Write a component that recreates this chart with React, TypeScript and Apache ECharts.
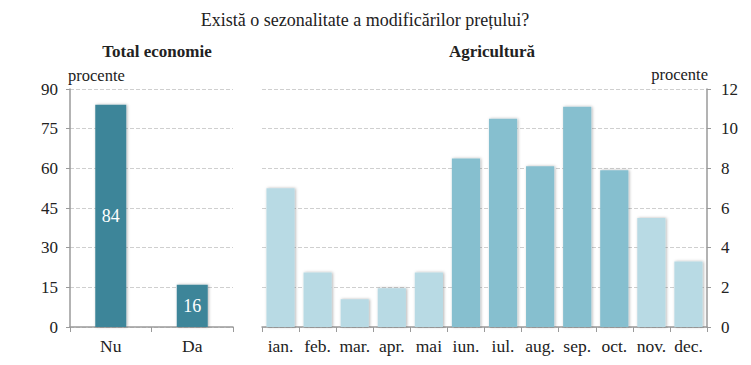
import React, { useEffect, useRef } from "react";
import * as echarts from "echarts";

const titleText = "Există o sezonalitate a modificărilor prețului?";
const leftTitle = "Total economie";
const rightTitle = "Agricultură";
const unitLabel = "procente";

const totalCategories = ["Nu", "Da"];
const totalValues = [84, 16];

const months = ["ian.", "feb.", "mar.", "apr.", "mai", "iun.", "iul.", "aug.", "sep.", "oct.", "nov.", "dec."];
const agriValues = [7.0, 2.75, 1.4, 1.95, 2.75, 8.5, 10.5, 8.1, 11.1, 7.9, 5.5, 3.3];
const highlightedMonths = ["iun.", "iul.", "aug.", "sep.", "oct."];

const FONT = "'Liberation Serif', 'Times New Roman', serif";
const TEXT = "#222";
const AXIS = "#9a9a9a";
const GRIDLINE = "#cfcfcf";

export default function App() {
  const ref = useRef<HTMLDivElement>(null);
  useEffect(() => {
    if (!ref.current) return;
    const chart = echarts.init(ref.current, undefined, { renderer: "svg" });
    const shadow = {
      shadowColor: "rgba(0,0,0,0.3)",
      shadowBlur: 3,
      shadowOffsetX: 1,
      shadowOffsetY: 0,
    };
    chart.setOption({
      animation: false,
      backgroundColor: "#fff",
      textStyle: { fontFamily: FONT, color: TEXT },
      title: [
        { text: titleText, left: 360, top: 6, textAlign: "center", textStyle: { fontFamily: FONT, fontSize: 18, fontWeight: "normal", color: TEXT } },
        { text: leftTitle, left: 152, top: 38, textAlign: "center", textStyle: { fontFamily: FONT, fontSize: 17, fontWeight: "bold", color: TEXT } },
        { text: rightTitle, left: 487, top: 38, textAlign: "center", textStyle: { fontFamily: FONT, fontSize: 17, fontWeight: "bold", color: TEXT } },
      ],
      grid: [
        { left: 70, right: 518, top: 89, bottom: 38 },
        { left: 262, right: 44, top: 89, bottom: 38 },
      ],
      xAxis: [
        {
          type: "category",
          gridIndex: 0,
          data: totalCategories,
          axisLine: { lineStyle: { color: AXIS, width: 1.5 } },
          axisTick: { show: true, length: 5, lineStyle: { color: AXIS } },
          axisLabel: { color: TEXT, fontFamily: FONT, fontSize: 17.5, margin: 10 },
        },
        {
          type: "category",
          gridIndex: 1,
          data: months,
          axisLine: { lineStyle: { color: AXIS, width: 1.5 } },
          axisTick: { show: true, length: 5, lineStyle: { color: AXIS } },
          axisLabel: { color: TEXT, fontFamily: FONT, fontSize: 17.5, margin: 10, interval: 0 },
        },
      ],
      yAxis: [
        {
          type: "value",
          gridIndex: 0,
          min: 0,
          max: 90,
          interval: 15,
          name: unitLabel,
          nameLocation: "end",
          nameGap: 5,
          nameTextStyle: { color: TEXT, fontFamily: FONT, fontSize: 16.5, align: "left", padding: [0, 0, 0, -2] },
          axisLine: { show: true, lineStyle: { color: AXIS, width: 1.5 } },
          axisTick: { show: true, length: 4, lineStyle: { color: AXIS } },
          axisLabel: { color: TEXT, fontFamily: FONT, fontSize: 17, margin: 12 },
          splitLine: { show: true, lineStyle: { color: GRIDLINE, type: "dashed" } },
        },
        {
          type: "value",
          gridIndex: 1,
          position: "right",
          min: 0,
          max: 12,
          interval: 2,
          name: unitLabel,
          nameLocation: "end",
          nameGap: 6,
          nameTextStyle: { color: TEXT, fontFamily: FONT, fontSize: 16.5, align: "right", padding: [0, -1, 0, 0] },
          axisLine: { show: true, lineStyle: { color: AXIS, width: 1.5 } },
          axisTick: { show: true, length: 4, lineStyle: { color: AXIS } },
          axisLabel: { color: TEXT, fontFamily: FONT, fontSize: 17, margin: 14 },
          splitLine: { show: true, lineStyle: { color: GRIDLINE, type: "dashed" } },
        },
      ],
      series: [
        {
          type: "bar",
          xAxisIndex: 0,
          yAxisIndex: 0,
          data: totalValues,
          barCategoryGap: "62%",
          itemStyle: { color: "#3d8599", ...shadow },
          label: { show: true, position: "inside", color: "#fff", fontFamily: FONT, fontSize: 18 },
        },
        {
          type: "bar",
          xAxisIndex: 1,
          yAxisIndex: 1,
          barCategoryGap: "24%",
          data: agriValues.map((v, i) => ({
            value: v,
            itemStyle: { color: highlightedMonths.includes(months[i]) ? "#86bfcf" : "#b8dae4", ...shadow },
          })),
        },
      ],
    });
    return () => chart.dispose();
  }, []);
  return <div ref={ref} style={{ position: "fixed", left: 0, top: 0, width: 751, height: 365 }} />;
}
